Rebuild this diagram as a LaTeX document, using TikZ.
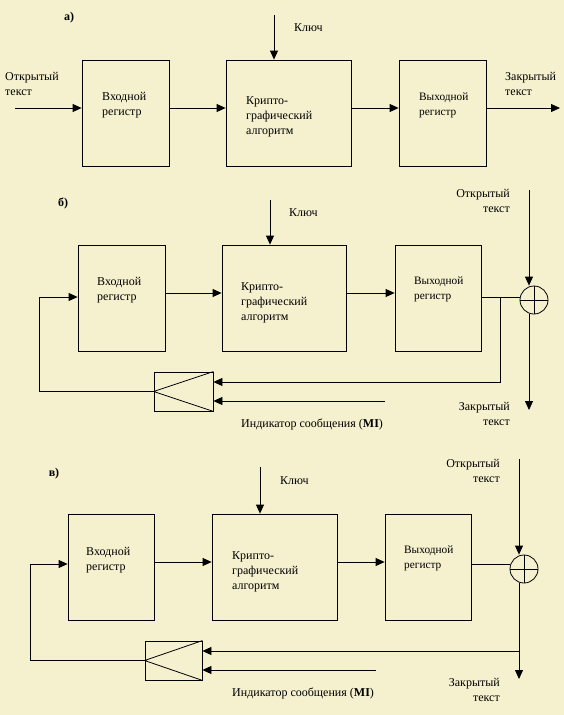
\documentclass[tikz,border=0pt]{standalone}
\usepackage{fontspec}
\setmainfont{Liberation Serif}
\usetikzlibrary{arrows.meta}
\definecolor{bg}{RGB}{245,240,206}
\begin{document}
\begin{tikzpicture}[x=1pt,y=-1pt,
  every node/.style={font=\fontsize{12}{15}\selectfont},
  box/.style={draw,line width=0.8pt,inner sep=0pt,minimum height=106pt},
  mux/.style={draw,line width=0.8pt,inner sep=0pt,minimum height=39pt},
  xorc/.style={draw,circle,line width=0.8pt,minimum size=28pt,inner sep=0pt},
  arr/.style={-{Triangle[length=9pt,width=8pt]},line width=0.8pt},
  ln/.style={line width=0.8pt},
  txt/.style={inner sep=0pt,align=left,anchor=west},
  rtxt/.style={inner sep=0pt,align=right,anchor=east},
  small/.style={font=\fontsize{11.3}{15}\selectfont},
  lab/.style={inner sep=0pt,font=\bfseries\fontsize{12}{14}\selectfont}
]
\fill[bg] (0,0) rectangle (564,715);
\useasboundingbox (0,0) rectangle (564,715);

% ---------------- a)
\node[lab] (alab) at (69,18) {а)};
\node[box,minimum width=87pt] (a1) at (125.5,113) {};
\node[box,minimum width=125pt] (a2) at (288.5,113) {};
\node[box,minimum width=87pt] (a3) at (442.5,113) {};
\node[txt] (a1t) at (102,105.5) {Входной\\регистр};
\node[txt] (a2t) at (246,117) {Крипто-\\графический\\алгоритм};
\node[txt,small] (a3t) at (419,105) {Выходной\\регистр};
\node[txt] (aint) at (5,84) {Открытый\\текст};
\node[txt] (aoutt) at (505,84) {Закрытый\\текст};
\node[txt] (akeyt) at (294,28) {Ключ};
\coordinate (ain) at (15,108);
\coordinate (aout) at (560,108);
\coordinate (akey) at (274,15);
\draw[arr] (ain) -- (a1.west |- ain);
\draw[arr] (a1.east |- ain) -- (a2.west |- ain);
\draw[arr] (a2.east |- ain) -- (a3.west |- ain);
\draw[arr] (a3.east |- ain) -- (aout);
\draw[arr] (akey) -- (akey |- a2.north);

% ---------------- b)
\node[lab] (blab) at (63,203) {б)};
\node[box,minimum width=87pt] (b1) at (121.5,298) {};
\node[box,minimum width=124pt] (b2) at (284,298) {};
\node[box,minimum width=86pt] (b3) at (438,298) {};
\node[mux,minimum width=59pt] (bm) at (183.5,391.5) {};
\node[xorc] (bx) at (534,300) {};
\node[txt] (b1t) at (97,290.5) {Входной\\регистр};
\node[txt] (b2t) at (241,303) {Крипто-\\графический\\алгоритм};
\node[txt,small] (b3t) at (414,289.5) {Выходной\\регистр};
\node[txt] (bkeyt) at (289,213) {Ключ};
\node[rtxt] (bopent) at (510,201) {Открытый\\текст};
\node[rtxt] (bclosedt) at (510,413.5) {Закрытый\\текст};
\node[txt] (bmit) at (241,424) {Индикатор сообщения (\textbf{MI})};
\coordinate (bmain) at (0,293);
\coordinate (bkey) at (270,200);
\coordinate (bopen) at (529,190);
\coordinate (bclosed) at (529,410);
\coordinate (btap) at (500,297);
\coordinate (bfy) at (0,382);
\coordinate (bmi) at (385,401);
\coordinate (bcorner) at (39,297);
\draw[arr] (b1.east |- bmain) -- (b2.west |- bmain);
\draw[arr] (b2.east |- bmain) -- (b3.west |- bmain);
\draw[arr] (bkey) -- (bkey |- b2.north);
\draw[ln] (b3.east |- btap) -- (bx.west |- btap);
\draw[ln] (bx.north) -- (bx.south) (bx.west) -- (bx.east);
\draw[arr] (bopen) -- (bopen |- bx.north);
\draw[arr] (bopen |- bx.south) -- (bclosed);
\draw[arr] (btap) |- (bm.east |- bfy);
\draw[arr] (bmi) -- (bm.east |- bmi);
\draw[ln] (bm.west) -- (bm.north east) (bm.west) -- (bm.south east);
\draw[arr] (bm.west) -| (bcorner) -- (b1.west |- bcorner);

% ---------------- c)
\node[lab] (clab) at (54,474) {в)};
\node[box,minimum width=86pt] (c1) at (111,567) {};
\node[box,minimum width=125pt] (c2) at (274.5,567) {};
\node[box,minimum width=86pt] (c3) at (428,567) {};
\node[mux,minimum width=57pt] (cm) at (173.5,660.5) {};
\node[xorc] (cx) at (524,569) {};
\node[txt] (c1t) at (86,560) {Входной\\регистр};
\node[txt] (c2t) at (232,572) {Крипто-\\графический\\алгоритм};
\node[txt,small] (c3t) at (404,558.5) {Выходной\\регистр};
\node[txt] (ckeyt) at (280,481) {Ключ};
\node[rtxt] (copent) at (500,470.5) {Открытый\\текст};
\node[rtxt] (cclosedt) at (500,690) {Закрытый\\текст};
\node[txt] (cmit) at (232,693) {Индикатор сообщения (\textbf{MI})};
\coordinate (cmain) at (0,562);
\coordinate (cout) at (0,564);
\coordinate (ckey) at (260,467);
\coordinate (copen) at (519,459);
\coordinate (cclosed) at (519,679);
\coordinate (ctap) at (519,651);
\coordinate (cmi) at (376,670);
\coordinate (ccorner) at (30,564);
\draw[arr] (c1.east |- cmain) -- (c2.west |- cmain);
\draw[arr] (c2.east |- cmain) -- (c3.west |- cmain);
\draw[arr] (ckey) -- (ckey |- c2.north);
\draw[ln] (c3.east |- cout) -- (cx.west |- cout);
\draw[ln] (cx.north) -- (cx.south) (cx.west) -- (cx.east);
\draw[arr] (copen) -- (copen |- cx.north);
\draw[arr] (copen |- cx.south) -- (cclosed);
\draw[arr] (ctap) -- (cm.east |- ctap);
\draw[arr] (cmi) -- (cm.east |- cmi);
\draw[ln] (cm.west) -- (cm.north east) (cm.west) -- (cm.south east);
\draw[arr] (cm.west) -| (ccorner) -- (c1.west |- ccorner);
\end{tikzpicture}
\end{document}
